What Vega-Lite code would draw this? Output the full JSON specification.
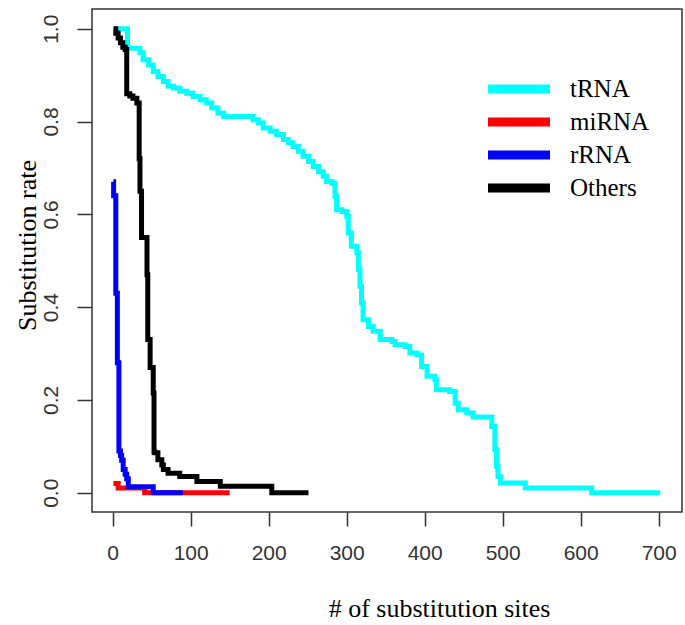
{
  "$schema": "https://vega.github.io/schema/vega-lite/v6.json",
  "width": 590,
  "height": 503,
  "autosize": {"type": "none"},
  "padding": {"left": 92, "top": 9, "right": 3, "bottom": 113},
  "background": "white",
  "config": {
    "view": {"stroke": "#333333", "strokeWidth": 1.5},
    "axis": {"grid": false, "domain": false}
  },
  "data": {
    "values": [
      {"type": "tRNA", "sites": 2, "rate": 1.0},
      {"type": "tRNA", "sites": 19, "rate": 0.958},
      {"type": "tRNA", "sites": 35, "rate": 0.948},
      {"type": "tRNA", "sites": 39, "rate": 0.933},
      {"type": "tRNA", "sites": 46, "rate": 0.922},
      {"type": "tRNA", "sites": 52, "rate": 0.908},
      {"type": "tRNA", "sites": 58, "rate": 0.897},
      {"type": "tRNA", "sites": 65, "rate": 0.886},
      {"type": "tRNA", "sites": 71, "rate": 0.876},
      {"type": "tRNA", "sites": 78, "rate": 0.872},
      {"type": "tRNA", "sites": 86, "rate": 0.865},
      {"type": "tRNA", "sites": 95, "rate": 0.861},
      {"type": "tRNA", "sites": 103, "rate": 0.854},
      {"type": "tRNA", "sites": 112, "rate": 0.847},
      {"type": "tRNA", "sites": 120, "rate": 0.84},
      {"type": "tRNA", "sites": 127, "rate": 0.829},
      {"type": "tRNA", "sites": 135, "rate": 0.818},
      {"type": "tRNA", "sites": 142, "rate": 0.811},
      {"type": "tRNA", "sites": 180, "rate": 0.804},
      {"type": "tRNA", "sites": 187, "rate": 0.797},
      {"type": "tRNA", "sites": 193, "rate": 0.786},
      {"type": "tRNA", "sites": 202, "rate": 0.779},
      {"type": "tRNA", "sites": 210, "rate": 0.772},
      {"type": "tRNA", "sites": 219, "rate": 0.761},
      {"type": "tRNA", "sites": 225, "rate": 0.754},
      {"type": "tRNA", "sites": 231, "rate": 0.746},
      {"type": "tRNA", "sites": 238, "rate": 0.736},
      {"type": "tRNA", "sites": 244, "rate": 0.725},
      {"type": "tRNA", "sites": 251, "rate": 0.714},
      {"type": "tRNA", "sites": 257, "rate": 0.703},
      {"type": "tRNA", "sites": 264, "rate": 0.692},
      {"type": "tRNA", "sites": 270, "rate": 0.682},
      {"type": "tRNA", "sites": 274, "rate": 0.671},
      {"type": "tRNA", "sites": 281, "rate": 0.667},
      {"type": "tRNA", "sites": 285, "rate": 0.639},
      {"type": "tRNA", "sites": 287, "rate": 0.61},
      {"type": "tRNA", "sites": 294, "rate": 0.606},
      {"type": "tRNA", "sites": 300, "rate": 0.596},
      {"type": "tRNA", "sites": 302, "rate": 0.56},
      {"type": "tRNA", "sites": 306, "rate": 0.531},
      {"type": "tRNA", "sites": 313, "rate": 0.517},
      {"type": "tRNA", "sites": 315, "rate": 0.481},
      {"type": "tRNA", "sites": 317, "rate": 0.445},
      {"type": "tRNA", "sites": 319, "rate": 0.409},
      {"type": "tRNA", "sites": 321, "rate": 0.373},
      {"type": "tRNA", "sites": 328, "rate": 0.358},
      {"type": "tRNA", "sites": 334, "rate": 0.348},
      {"type": "tRNA", "sites": 343, "rate": 0.33},
      {"type": "tRNA", "sites": 358, "rate": 0.326},
      {"type": "tRNA", "sites": 362, "rate": 0.319},
      {"type": "tRNA", "sites": 375, "rate": 0.315},
      {"type": "tRNA", "sites": 381, "rate": 0.301},
      {"type": "tRNA", "sites": 390, "rate": 0.297},
      {"type": "tRNA", "sites": 396, "rate": 0.272},
      {"type": "tRNA", "sites": 403, "rate": 0.251},
      {"type": "tRNA", "sites": 413, "rate": 0.244},
      {"type": "tRNA", "sites": 415, "rate": 0.222},
      {"type": "tRNA", "sites": 432, "rate": 0.218},
      {"type": "tRNA", "sites": 439, "rate": 0.193},
      {"type": "tRNA", "sites": 443, "rate": 0.179},
      {"type": "tRNA", "sites": 454, "rate": 0.172},
      {"type": "tRNA", "sites": 462, "rate": 0.163},
      {"type": "tRNA", "sites": 486, "rate": 0.143},
      {"type": "tRNA", "sites": 490, "rate": 0.093},
      {"type": "tRNA", "sites": 492, "rate": 0.057},
      {"type": "tRNA", "sites": 494, "rate": 0.035},
      {"type": "tRNA", "sites": 497, "rate": 0.021},
      {"type": "tRNA", "sites": 529, "rate": 0.01},
      {"type": "tRNA", "sites": 614, "rate": 0.0},
      {"type": "tRNA", "sites": 702, "rate": 0.0},
      {"type": "miRNA", "sites": 1, "rate": 0.02},
      {"type": "miRNA", "sites": 7, "rate": 0.01},
      {"type": "miRNA", "sites": 41, "rate": 0.0},
      {"type": "miRNA", "sites": 150, "rate": 0.0},
      {"type": "rRNA", "sites": 0.8, "rate": 0.67},
      {"type": "rRNA", "sites": 1.2, "rate": 0.64},
      {"type": "rRNA", "sites": 4, "rate": 0.43},
      {"type": "rRNA", "sites": 6, "rate": 0.28},
      {"type": "rRNA", "sites": 8, "rate": 0.09},
      {"type": "rRNA", "sites": 10, "rate": 0.08},
      {"type": "rRNA", "sites": 11.5, "rate": 0.07},
      {"type": "rRNA", "sites": 13.5, "rate": 0.05},
      {"type": "rRNA", "sites": 16, "rate": 0.04},
      {"type": "rRNA", "sites": 18, "rate": 0.03},
      {"type": "rRNA", "sites": 20, "rate": 0.013},
      {"type": "rRNA", "sites": 52, "rate": 0.0},
      {"type": "rRNA", "sites": 90, "rate": 0.0},
      {"type": "Others", "sites": 1, "rate": 1.0},
      {"type": "Others", "sites": 4, "rate": 0.99},
      {"type": "Others", "sites": 7, "rate": 0.98},
      {"type": "Others", "sites": 10, "rate": 0.97},
      {"type": "Others", "sites": 13, "rate": 0.96},
      {"type": "Others", "sites": 16, "rate": 0.955},
      {"type": "Others", "sites": 18, "rate": 0.86},
      {"type": "Others", "sites": 22, "rate": 0.855},
      {"type": "Others", "sites": 26, "rate": 0.85},
      {"type": "Others", "sites": 31, "rate": 0.84},
      {"type": "Others", "sites": 34, "rate": 0.72},
      {"type": "Others", "sites": 35, "rate": 0.65},
      {"type": "Others", "sites": 37, "rate": 0.55},
      {"type": "Others", "sites": 44, "rate": 0.47},
      {"type": "Others", "sites": 45, "rate": 0.33},
      {"type": "Others", "sites": 48, "rate": 0.27},
      {"type": "Others", "sites": 52, "rate": 0.215},
      {"type": "Others", "sites": 53, "rate": 0.088},
      {"type": "Others", "sites": 54, "rate": 0.086},
      {"type": "Others", "sites": 58, "rate": 0.071},
      {"type": "Others", "sites": 63, "rate": 0.06},
      {"type": "Others", "sites": 65, "rate": 0.05},
      {"type": "Others", "sites": 71, "rate": 0.042},
      {"type": "Others", "sites": 86, "rate": 0.035},
      {"type": "Others", "sites": 108, "rate": 0.024},
      {"type": "Others", "sites": 138, "rate": 0.014},
      {"type": "Others", "sites": 204, "rate": 0.0},
      {"type": "Others", "sites": 251, "rate": 0.0}
    ]
  },
  "mark": {"type": "line", "interpolate": "step-after", "strokeWidth": 5, "strokeJoin": "miter", "strokeCap": "butt"},
  "encoding": {
    "x": {
      "field": "sites", "type": "quantitative",
      "scale": {"domain": [-26.5, 729.9], "nice": false, "zero": false},
      "axis": {
        "values": [0, 100, 200, 300, 400, 500, 600, 700],
        "format": "d",
        "tickSize": 14, "tickWidth": 1.5, "tickColor": "#333333",
        "labelFont": "Liberation Sans", "labelFontSize": 21, "labelColor": "#333333",
        "labelPadding": 16,
        "title": "# of substitution sites",
        "titleFont": "Liberation Serif", "titleFontSize": 26, "titleFontWeight": "normal", "titleColor": "#000000",
        "titleX": 347, "titleY": 96, "titleBaseline": "middle", "titleAlign": "center"
      }
    },
    "y": {
      "field": "rate", "type": "quantitative",
      "scale": {"domain": [-0.0415, 1.0425], "nice": false, "zero": false},
      "axis": {
        "values": [0, 0.2, 0.4, 0.6, 0.8, 1.0],
        "format": ".1f",
        "tickSize": 15, "tickWidth": 1.5, "tickColor": "#333333",
        "labelFont": "Liberation Sans", "labelFontSize": 21, "labelColor": "#333333",
        "labelAngle": -90, "labelAlign": "center", "labelBaseline": "alphabetic", "labelPadding": 20,
        "title": "Substitution rate",
        "titleFont": "Liberation Serif", "titleFontSize": 26, "titleFontWeight": "normal", "titleColor": "#000000",
        "titleX": -65, "titleY": 236, "titleBaseline": "middle", "titleAlign": "center", "titleAngle": -90
      }
    },
    "color": {
      "field": "type", "type": "nominal",
      "scale": {"domain": ["tRNA", "miRNA", "rRNA", "Others"], "range": ["#00FFFF", "#FF0000", "#0000FF", "#000000"]},
      "legend": {
        "title": null,
        "orient": "none",
        "legendX": 412,
        "legendY": 65,
        "symbolType": "M-3,0H3",
        "symbolSize": 427,
        "symbolStrokeWidth": 9,
        "labelFont": "Liberation Serif",
        "labelFontSize": 25,
        "labelColor": "#000000",
        "labelOffset": 36,
        "rowPadding": -7.5
      }
    }
  }
}
